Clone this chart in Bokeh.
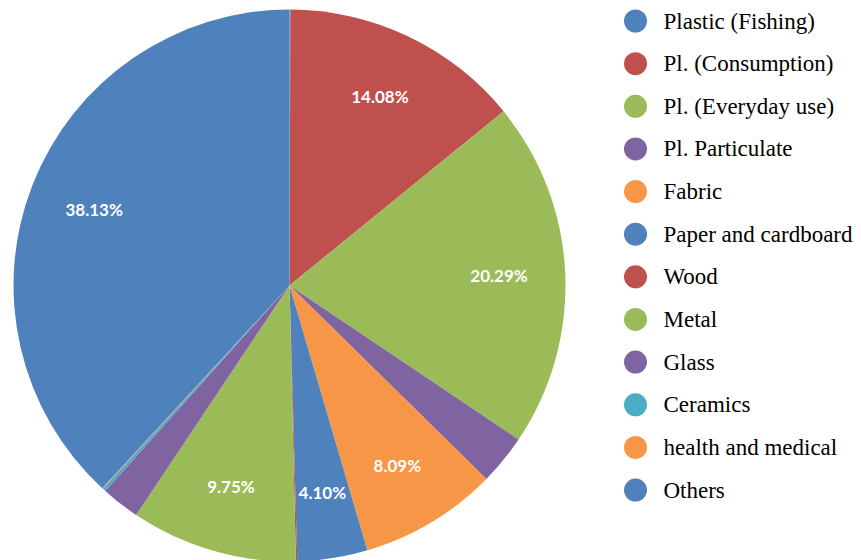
import math
from bokeh.plotting import figure
from bokeh.models import Range1d, ColumnDataSource
from bokeh.core.properties import value
from bokeh.embed import file_html
from bokeh.resources import INLINE

categories = ["Plastic (Fishing)", "Pl. (Consumption)", "Pl. (Everyday use)", "Pl. Particulate",
              "Fabric", "Paper and cardboard", "Wood", "Metal", "Glass", "Ceramics",
              "health and medical", "Others"]
values = [0.05, 14.08, 20.29, 2.94, 8.09, 4.10, 0.08, 9.75, 2.26, 0.18, 0.05, 38.13]
colors = ["#4F81BD", "#C0504D", "#9BBB59", "#8064A2", "#F79646", "#4F81BD",
          "#C0504D", "#9BBB59", "#8064A2", "#4BACC6", "#F79646", "#4F81BD"]

W, H = 861, 560
p = figure(width=W, height=H, output_backend="svg", toolbar_location=None,
           x_range=Range1d(0, W), y_range=Range1d(0, H), min_border=0)
p.axis.visible = False
p.grid.visible = False
p.outline_line_color = None
p.background_fill_color = "white"

cx, cy, R = 289, 275, 276
total = sum(values)
starts, ends, lx, ly, labels = [], [], [], [], []
cum = 0.0
for v in values:
    a0 = math.pi / 2 - 2 * math.pi * cum / total
    cum += v
    a1 = math.pi / 2 - 2 * math.pi * cum / total
    starts.append(a0)
    ends.append(a1)
    mid = (a0 + a1) / 2
    lx.append(cx + 0.76 * R * math.cos(mid))
    ly.append(cy + 0.76 * R * math.sin(mid))
    labels.append(f"{v:.2f}%" if v >= 4 else "")

src = ColumnDataSource(dict(start=starts, end=ends, color=colors, lx=lx, ly=ly, label=labels))
p.wedge(x=cx, y=cy, radius=R, radius_units="data", start_angle="start", end_angle="end",
        direction="clock", fill_color="color", line_color=None, source=src)
p.text(x="lx", y="ly", text="label", source=src, text_color="white",
       text_font=value("Lato"), text_font_style="bold", text_font_size="17px",
       text_align="center", text_baseline="middle")

# legend
ly0, step = 539.5, 42.64
leg_y = [ly0 - i * step for i in range(len(categories))]
leg = ColumnDataSource(dict(y=leg_y, color=colors, name=categories,
                            cxl=[635] * len(categories), tx=[663] * len(categories)))
p.scatter(x="cxl", y="y", size=23, marker="circle", fill_color="color", line_color=None, source=leg)
p.text(x="tx", y="y", text="name", source=leg, text_color="#000000",
       text_font=value("Times New Roman"), text_font_size="23px",
       text_align="left", text_baseline="middle")

open("out.html", "w").write(file_html(p, INLINE))
